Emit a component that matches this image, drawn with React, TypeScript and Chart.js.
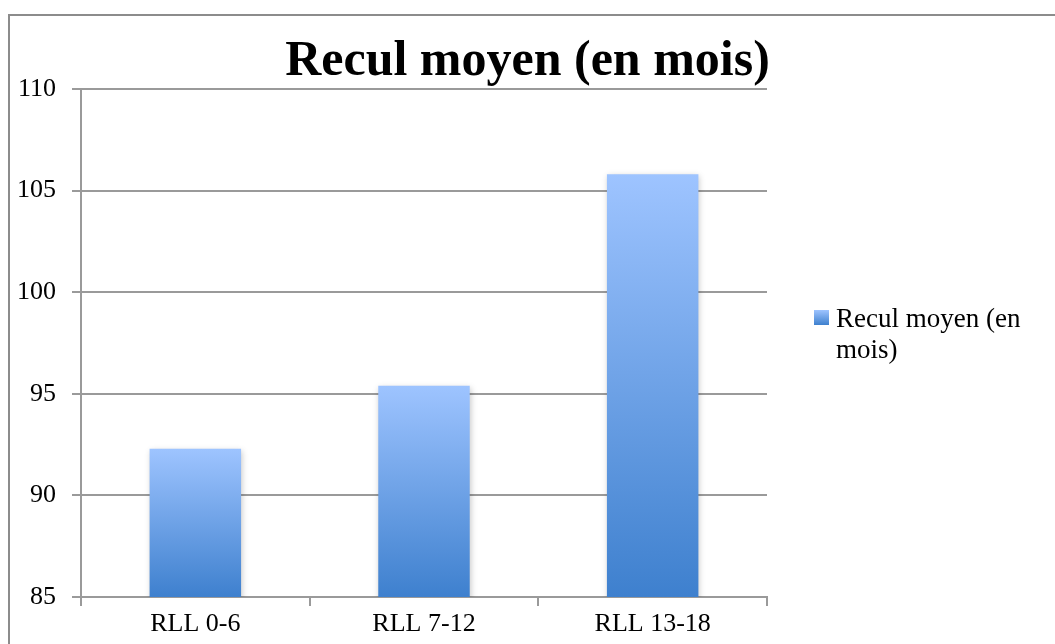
import React, { useEffect, useRef } from "react";
import { Chart, registerables } from "chart.js";

Chart.register(...registerables);

const categories = ["RLL 0-6", "RLL 7-12", "RLL 13-18"];
const seriesLabel = "Recul moyen (en mois)";
const seriesValues = [92.3, 95.4, 105.8];
const legendLines = ["Recul moyen (en", "mois)"];
const titleText = "Recul moyen (en mois)";
const yMin = 85;
const yMax = 110;
const yStep = 5;

const SERIF = "'Liberation Serif', 'Times New Roman', serif";
const GRID = "#9a9a9a";
const TOP_COLOR = "rgb(158,196,255)";
const BOTTOM_COLOR = "rgb(62,128,206)";

const frameAndLegend = {
  id: "frameAndLegend",
  beforeDatasetsDraw(chart: any) {
    const ctx = chart.ctx;
    ctx.save();
    ctx.shadowColor = "rgba(0,0,0,0.22)";
    ctx.shadowBlur = 6;
    ctx.shadowOffsetX = 1;
    ctx.shadowOffsetY = 2;
  },
  afterDatasetsDraw(chart: any) {
    chart.ctx.restore();
  },
  afterDraw(chart: any) {
    const ctx = chart.ctx;
    ctx.save();
    ctx.strokeStyle = "#8c8c8c";
    ctx.lineWidth = 2;
    ctx.beginPath();
    ctx.moveTo(1060, 15);
    ctx.lineTo(9, 15);
    ctx.lineTo(9, 650);
    ctx.stroke();
    const bx = 814, by = 310, bs = 15;
    const g = ctx.createLinearGradient(0, by, 0, by + bs);
    g.addColorStop(0, TOP_COLOR);
    g.addColorStop(1, BOTTOM_COLOR);
    ctx.fillStyle = g;
    ctx.fillRect(bx, by, bs, bs);
    ctx.fillStyle = "#000";
    ctx.font = `27px ${SERIF}`;
    ctx.textBaseline = "alphabetic";
    ctx.textAlign = "left";
    legendLines.forEach((t, i) => ctx.fillText(t, 836, 327 + i * 31));
    ctx.restore();
  },
};

export default function App() {
  const ref = useRef<HTMLCanvasElement>(null);
  useEffect(() => {
    if (!ref.current) return;
    const chart = new Chart(ref.current, {
      type: "bar",
      data: {
        labels: categories,
        datasets: [
          {
            label: seriesLabel,
            data: seriesValues,
            backgroundColor: (c: any) => {
              const ch = c.chart;
              const ys = ch.scales && ch.scales.y;
              if (!ys || c.type !== "data") return TOP_COLOR;
              const top = ys.getPixelForValue(c.raw);
              const bottom = ys.bottom;
              if (!Number.isFinite(top) || !Number.isFinite(bottom) || bottom <= top) return TOP_COLOR;
              const g = ch.ctx.createLinearGradient(0, top, 0, bottom);
              g.addColorStop(0, TOP_COLOR);
              g.addColorStop(1, BOTTOM_COLOR);
              return g;
            },
            borderWidth: 0,
            barPercentage: 0.4,
            categoryPercentage: 1,
          },
        ],
      },
      options: {
        animation: false,
        responsive: true,
        maintainAspectRatio: false,
        layout: { padding: 0 },
        plugins: {
          legend: { display: false },
          tooltip: { enabled: false },
          title: {
            display: true,
            text: titleText,
            color: "#000",
            font: { family: SERIF, size: 50, weight: "bold", lineHeight: 1.08 },
            padding: { top: 35, bottom: 0 },
          },
        },
        scales: {
          x: {
            grid: {
              drawOnChartArea: false,
              drawTicks: true,
              tickLength: 9,
              color: GRID,
              lineWidth: 2,
            },
            border: { display: true, color: GRID, width: 2 },
            ticks: {
              color: "#000",
              font: { family: SERIF, size: 26 },
              padding: 3,
              maxRotation: 0,
            },
            afterFit: (s: any) => {
              s.height = 47;
            },
          },
          y: {
            min: yMin,
            max: yMax,
            grid: { color: GRID, lineWidth: 2, tickLength: 9 },
            border: { display: true, color: GRID, width: 2 },
            ticks: {
              stepSize: yStep,
              color: "#000",
              font: { family: SERIF, size: 26 },
              padding: 16,
            },
            afterFit: (s: any) => {
              s.width = 81;
            },
          },
          y2: {
            type: "linear",
            position: "right",
            display: true,
            grid: { display: false },
            border: { display: false },
            ticks: { display: false },
            afterFit: (s: any) => {
              s.width = 288;
            },
          },
        },
      } as any,
      plugins: [frameAndLegend],
    });
    return () => chart.destroy();
  }, []);
  return (
    <div style={{ position: "fixed", left: 0, top: 0, width: 1055, height: 644, background: "#fff" }}>
      <canvas ref={ref} />
    </div>
  );
}
